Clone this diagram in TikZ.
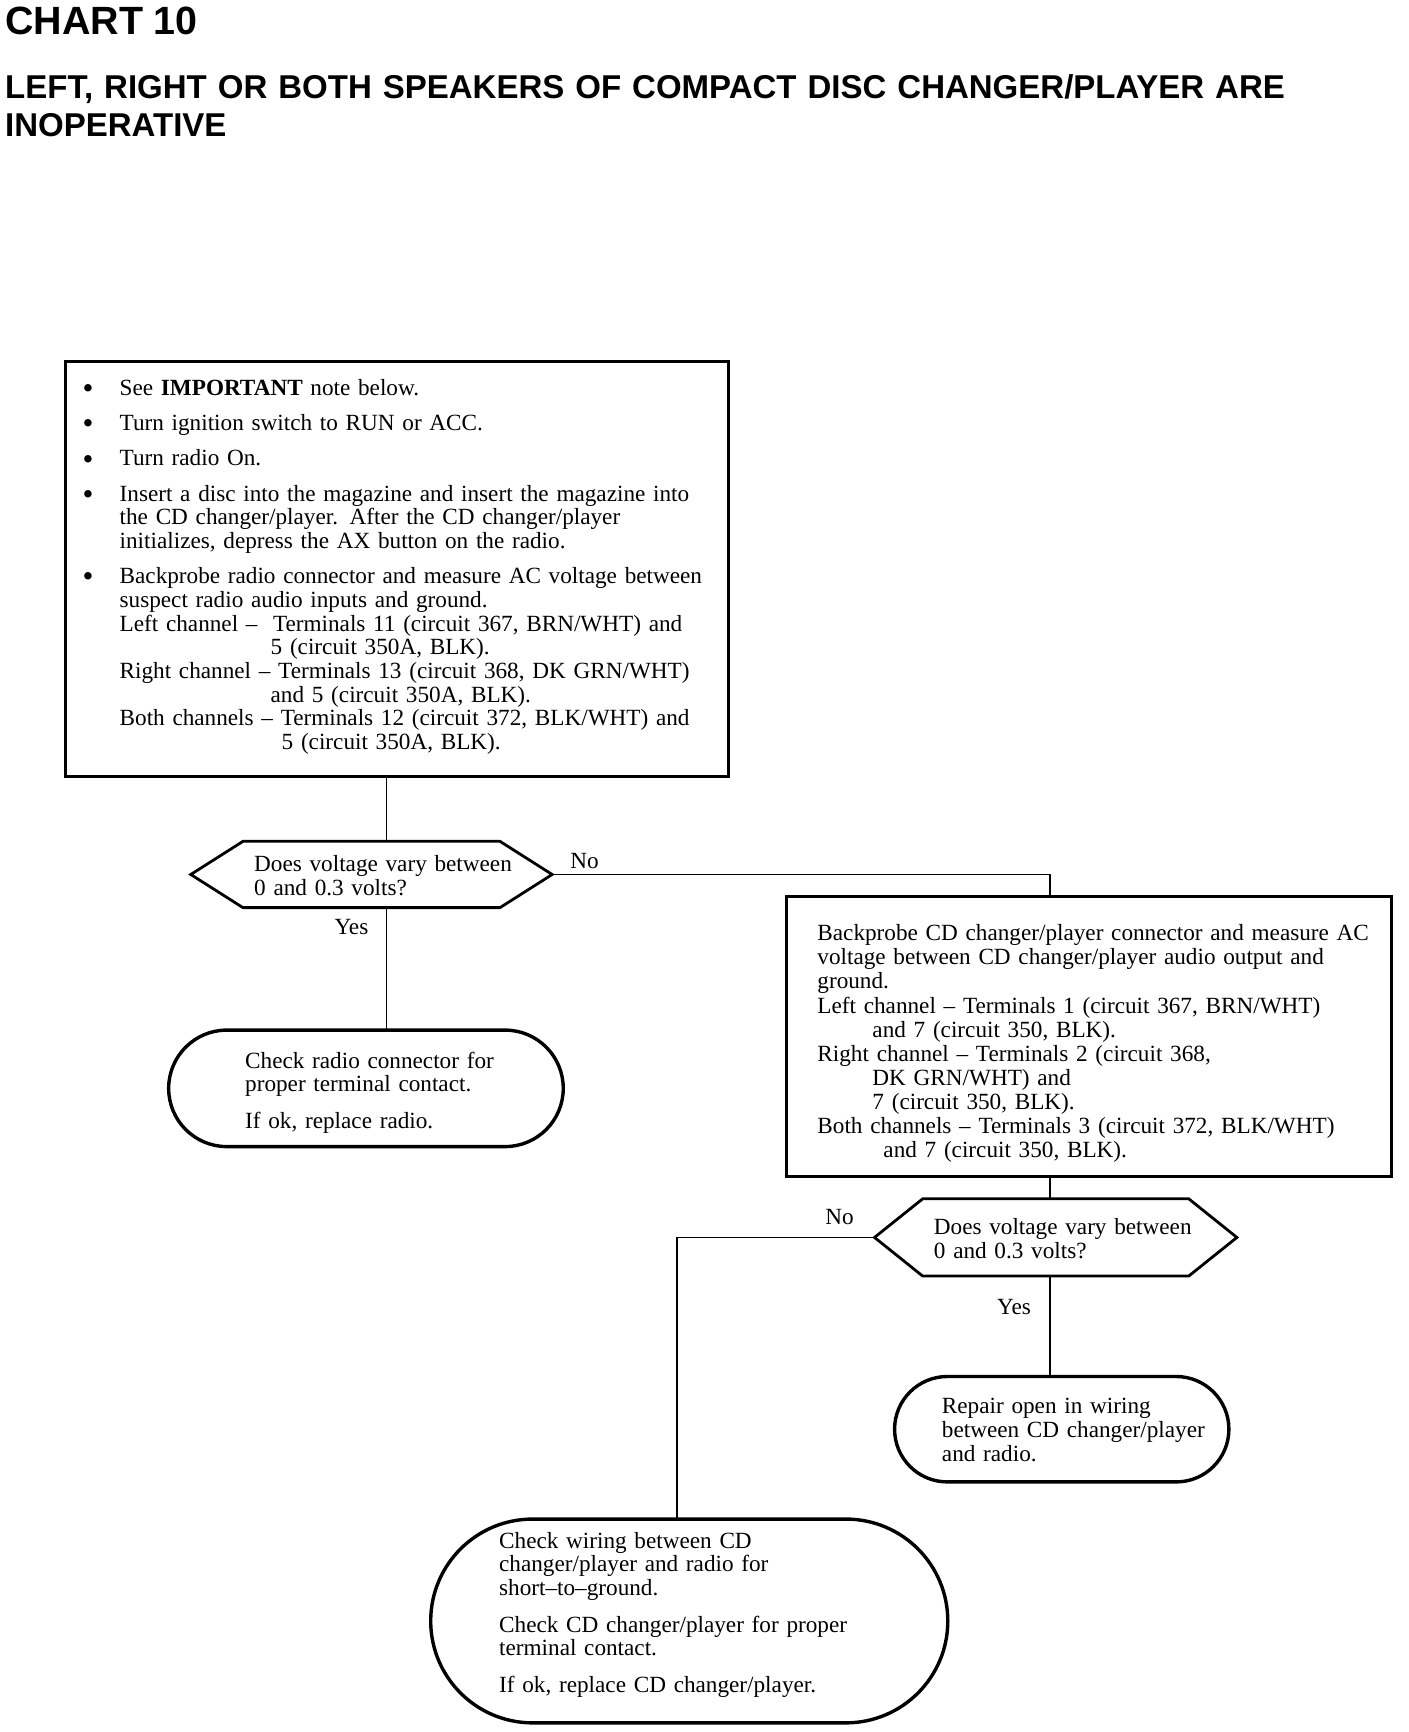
\documentclass[tikz,border=0pt]{standalone}
\usepackage{fontspec}
\setmainfont{Liberation Serif}
\setsansfont{Liberation Sans}
\newcommand\bodyfont{\fontsize{23.2}{23.7}\selectfont}
\newcommand\bul{\leavevmode\llap{\makebox[37pt][l]{\raisebox{-3.2pt}{\fontsize{31}{31}\selectfont\textbullet}}}}
\begin{document}
\begin{tikzpicture}[x=1.004pt,y=-1.004pt,
  box/.style={draw, line width=2.8pt, inner sep=0pt, outer sep=0pt},
  term/.style={draw, line width=3.4pt, inner sep=0pt, outer sep=0pt},
  hexbox/.style={inner sep=0pt, outer sep=0pt},
  hexline/.style={line width=2.8pt, line join=miter},
  conn/.style={line width=1.6pt},
  txt/.style={anchor=base west, inner sep=0pt, text width=700pt, align=left, font=\bodyfont},
  lbl/.style={anchor=base west, inner sep=0pt, font=\bodyfont}]
\fill[white] (0,0) rectangle (1402.4,1725.1);
\useasboundingbox (0,0) rectangle (1402.4,1725.1);

% titles
\node[anchor=base west, inner sep=0pt, font=\sffamily\bfseries\fontsize{39.4}{39.4}\selectfont] (title) at (5,34) {CHART 10};
\node[anchor=base west, inner sep=0pt, text width=1400pt, align=left, font=\sffamily\bfseries\fontsize{33}{38}\selectfont] (sub) at (5,98) {LEFT, RIGHT OR BOTH SPEAKERS OF COMPACT DISC CHANGER/PLAYER ARE\\INOPERATIVE};

% box 1
\node[box, minimum width=663.6pt, minimum height=414.7pt] (b1) at (395.5,566.5) {};
\node[txt] (b1t) at (119,394) {\bul See \textbf{IMPORTANT} note below.\\[11.5pt]
\bul Turn ignition switch to RUN or ACC.\\[11.5pt]
\bul Turn radio On.\\[11.5pt]
\bul Insert a disc into the magazine and insert the magazine into\\
the CD changer/player. After the CD changer/player\\
initializes, depress the AX button on the radio.\\[11.5pt]
\bul Backprobe radio connector and measure AC voltage between\\
suspect radio audio inputs and ground.\\
Left channel --\ \ Terminals 11 (circuit 367, BRN/WHT) and\\
\hspace*{151pt}5 (circuit 350A, BLK).\\
Right channel -- Terminals 13 (circuit 368, DK GRN/WHT)\\
\hspace*{151pt}and 5 (circuit 350A, BLK).\\
Both channels -- Terminals 12 (circuit 372, BLK/WHT) and\\
\hspace*{162pt}5 (circuit 350A, BLK).};

% decision 1
\node[hexbox, minimum width=361.4pt, minimum height=66.3pt] (d1) at (370,871) {};
\draw[hexline] (d1.west) -- ([xshift=52.2pt]d1.north west) -- ([xshift=-52.2pt]d1.north east) -- (d1.east) -- ([xshift=-52.2pt]d1.south east) -- ([xshift=52.2pt]d1.south west) -- cycle;
\node[txt] (d1t) at (253,868) {Does voltage vary between\\0 and 0.3 volts?};

% terminal 1
\node[term, rounded corners=58.2pt, minimum width=394.6pt, minimum height=116.5pt] (t1) at (364.5,1084) {};
\node[txt] (t1t) at (244,1064) {Check radio connector for\\proper terminal contact.\\[13pt]If ok, replace radio.};

% box 2
\node[box, minimum width=605.4pt, minimum height=280.1pt] (b2) at (1084.5,1032.5) {};
\node[txt, font=\fontsize{23.2}{24.1}\selectfont] (b2t) at (814,937) {Backprobe CD changer/player connector and measure AC\\
voltage between CD changer/player audio output and\\
ground.\\
Left channel -- Terminals 1 (circuit 367, BRN/WHT)\\
\hspace*{55pt}and 7 (circuit 350, BLK).\\
Right channel -- Terminals 2 (circuit 368,\\
\hspace*{55pt}DK GRN/WHT) and\\
\hspace*{55pt}7 (circuit 350, BLK).\\
Both channels -- Terminals 3 (circuit 372, BLK/WHT)\\
\hspace*{66pt}and 7 (circuit 350, BLK).};

% decision 2
\node[hexbox, minimum width=362.4pt, minimum height=77.3pt] (d2) at (1051.5,1232.5) {};
\draw[hexline] (d2.west) -- ([xshift=48.2pt]d2.north west) -- ([xshift=-48.2pt]d2.north east) -- (d2.east) -- ([xshift=-48.2pt]d2.south east) -- ([xshift=48.2pt]d2.south west) -- cycle;
\node[txt] (d2t) at (930,1230) {Does voltage vary between\\0 and 0.3 volts?};

% terminal 2
\node[term, rounded corners=52.7pt, minimum width=334.3pt, minimum height=105.4pt] (t2) at (1057.5,1423.5) {};
\node[txt] (t2t) at (938,1408) {Repair open in wiring\\between CD changer/player\\and radio.};

% terminal 3
\node[term, rounded corners=101.9pt, minimum width=517.1pt, minimum height=203.8pt] (t3) at (686.5,1614.5) {};
\node[txt] (t3t) at (497,1542) {Check wiring between CD\\changer/player and radio for\\short--to--ground.\\[13pt]Check CD changer/player for proper\\terminal contact.\\[13pt]If ok, replace CD changer/player.};

% connectors
\coordinate (v1) at (385,0);
\coordinate (v2) at (1046,0);
\coordinate (v3) at (674,0);
\draw[conn] (b1.south -| v1) -- (d1.north -| v1);
\draw[conn] (d1.south -| v1) -- (t1.north -| v1);
\draw[conn] (d1.east) -| (b2.north -| v2);
\draw[conn] (b2.south -| v2) -- (d2.north -| v2);
\draw[conn] (d2.south -| v2) -- (t2.north -| v2);
\draw[conn] (d2.west) -| (t3.north -| v3);

% labels
\node[lbl] (no1) at (568,865) {No};
\node[lbl] (yes1) at (333,931) {Yes};
\node[lbl] (no2) at (822,1220) {No};
\node[lbl] (yes2) at (993,1309) {Yes};
\end{tikzpicture}
\end{document}
